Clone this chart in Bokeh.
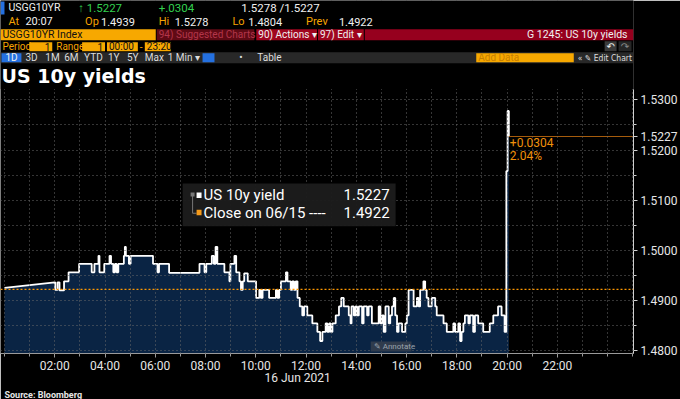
import numpy as np
import pandas as pd
from bokeh.plotting import figure
from bokeh.models import (FixedTicker, Range1d, Label, Span, BoxAnnotation,
                          DatetimeTickFormatter, PrintfTickFormatter, LinearAxis,
                          Title, CustomJSTickFormatter)
from bokeh.embed import file_html
from bokeh.resources import INLINE

# ---------------- data ----------------
hours = [
    0.00, 2.00, 2.02, 2.11, 2.19, 2.37, 2.55, 2.97, 3.47, 3.58,
    3.74, 3.78, 3.97, 4.18, 4.24, 4.33, 4.40, 4.46, 4.53, 4.75,
    4.79, 4.83, 4.95, 5.02, 5.91, 6.09, 6.15, 6.55, 7.76, 7.96,
    8.03, 8.25, 8.33, 8.40, 8.47, 8.75, 8.95, 8.99, 9.15, 9.22,
    9.35, 9.41, 9.48, 9.54, 9.68, 10.01, 10.14, 10.20, 10.27, 10.53,
    10.80, 10.86, 10.93, 11.00, 11.20, 11.26, 11.39, 11.45, 11.52, 11.59,
    11.66, 11.75, 11.85, 11.92, 12.05, 12.25, 12.45, 12.56, 12.65, 12.78,
    12.85, 12.92, 12.98, 13.05, 13.18, 13.31, 13.40, 13.50, 13.70, 13.77,
    13.81, 13.90, 13.97, 14.03, 14.10, 14.23, 14.29, 14.43, 14.49, 14.62,
    14.89, 14.96, 15.02, 15.09, 15.16, 15.29, 15.35, 15.42, 15.49, 15.55,
    15.62, 15.68, 15.82, 15.95, 16.01, 16.08, 16.28, 16.41, 16.48, 16.54,
    16.67, 16.74, 16.80, 16.87, 17.00, 17.14, 17.20, 17.47, 17.60, 17.86,
    17.93, 18.06, 18.13, 18.19, 18.26, 18.32, 18.46, 18.52, 18.65, 18.72,
    18.85, 19.05, 19.31, 19.45, 19.64, 19.78, 19.90, 19.97, 20.02, 20.07,
]
yields = [
    1.4925, 1.4936, 1.4921, 1.4936, 1.4920, 1.4938, 1.4956, 1.4973, 1.4956, 1.4973,
    1.4989, 1.4956, 1.4973, 1.4989, 1.4973, 1.4956, 1.4973, 1.4956, 1.4973, 1.4989,
    1.5007, 1.4989, 1.4973, 1.4989, 1.4973, 1.4956, 1.4973, 1.4955, 1.4973, 1.4956,
    1.4973, 1.4989, 1.4973, 1.5007, 1.4973, 1.4956, 1.4938, 1.4973, 1.4989, 1.4956,
    1.4938, 1.4921, 1.4938, 1.4954, 1.4938, 1.4905, 1.4921, 1.4905, 1.4921, 1.4905,
    1.4921, 1.4905, 1.4921, 1.4938, 1.4956, 1.4938, 1.4921, 1.4938, 1.4921, 1.4938,
    1.4905, 1.4888, 1.4870, 1.4888, 1.4870, 1.4854, 1.4837, 1.4819, 1.4837, 1.4854,
    1.4837, 1.4854, 1.4837, 1.4854, 1.4870, 1.4888, 1.4905, 1.4888, 1.4870, 1.4854,
    1.4888, 1.4870, 1.4888, 1.4870, 1.4888, 1.4854, 1.4888, 1.4870, 1.4888, 1.4854,
    1.4888, 1.4854, 1.4870, 1.4837, 1.4888, 1.4854, 1.4870, 1.4888, 1.4905, 1.4870,
    1.4837, 1.4854, 1.4837, 1.4854, 1.4870, 1.4921, 1.4888, 1.4905, 1.4888, 1.4921,
    1.4938, 1.4921, 1.4905, 1.4888, 1.4905, 1.4888, 1.4870, 1.4854, 1.4837, 1.4854,
    1.4837, 1.4854, 1.4819, 1.4837, 1.4854, 1.4870, 1.4854, 1.4870, 1.4837, 1.4870,
    1.4854, 1.4837, 1.4854, 1.4870, 1.4888, 1.4870, 1.4837, 1.5158, 1.5278, 1.5227,
]
assert len(hours) == len(yields)

prev_close = 1.4922
last_value = 1.5227
change_abs = 0.0304
change_pct = 2.04
y_ticks = [1.48, 1.49, 1.50, 1.51, 1.52, 1.53]
y_minor = [1.48 + 0.005 * k for k in range(11)]
x_tick_hours = [2, 4, 6, 8, 10, 12, 14, 16, 18, 20, 22]
date_label = "16 Jun 2021"
series_name = "US 10y yield"
close_name = "Close on 06/15 ----"
chart_title = "US 10y yields"
source_text = "Source: Bloomberg"

BASE = pd.Timestamp("2021-06-16")


def ms(h):
    return (BASE + pd.Timedelta(hours=h)).value / 1e6


# reference-pixel -> data helpers (placement of annotations / header only)
def tx(X):
    return ms((X - 4) / 25.25)


def vy(Y):
    return 1.48 + (352 - Y) / 5040.0


# step expansion (first segment is a data gap, drawn straight)
xs = [ms(hours[0]), ms(hours[1])]
ys = [yields[0], yields[1]]
for i in range(2, len(hours)):
    xs += [ms(hours[i]), ms(hours[i])]
    ys += [yields[i - 1], yields[i]]

Y_BOTTOM, Y_TOP = vy(355), vy(0)
Y_AXIS_TOP = 1.5320
X_LEFT, X_RIGHT = tx(0), tx(636)

FONT = "Roboto"
ORANGE = "#f5a300"
WHITE = "#f0f0f0"

p = figure(width=680, height=399, x_axis_type="datetime", y_axis_location="right",
           x_range=Range1d(X_LEFT, X_RIGHT), y_range=Range1d(Y_BOTTOM, Y_TOP),
           output_backend="svg", toolbar_location=None,
           background_fill_color="black", border_fill_color="black",
           outline_line_color=None, min_border_left=0, min_border_top=0,
           min_border_right=0, min_border_bottom=0)

p.varea(x=xs, y1=Y_BOTTOM, y2=ys, fill_color="#0a2444")
p.line(x=xs, y=ys, line_color="white", line_width=1.8)
p.segment(x0=[ms(hours[-1])], x1=[X_RIGHT], y0=[last_value], y1=[last_value],
          line_color="#a65c0c", line_width=1.2)

# grids (drawn over the filled area, like the terminal does)
p.xgrid.ticker = FixedTicker(ticks=[ms(h) for h in range(0, 26)])
p.ygrid.ticker = FixedTicker(ticks=y_minor)
for g in (p.xgrid[0], p.ygrid[0]):
    g.grid_line_color = "#6a6a6a"
    g.grid_line_dash = "1 3"
    g.grid_line_width = 1
    g.level = "annotation"

# x axis
xa = p.xaxis[0]
xa.ticker = FixedTicker(ticks=[ms(h) for h in x_tick_hours],
                        minor_ticks=[ms(h) for h in range(0, 26)])
xa.formatter = DatetimeTickFormatter(hours="%H:%M", hourmin="%H:%M", days="%H:%M",
                                     minutes="%H:%M", context=None)
xa.axis_line_color = "#9a9a9a"
xa.major_tick_line_color = "#9a9a9a"
xa.minor_tick_line_color = "#9a9a9a"
xa.major_tick_out = 4
xa.major_tick_in = 0
xa.minor_tick_out = 3
xa.minor_tick_in = 0
xa.major_label_standoff = 1
xa.major_label_text_color = "#e6e6e6"
xa.major_label_text_font = FONT
xa.major_label_text_font_size = "12px"

# y axis (right); the last price is marked on the axis as in the terminal
ya = p.yaxis[0]
ya.bounds = (Y_BOTTOM, Y_AXIS_TOP)
ya.ticker = FixedTicker(ticks=y_ticks + [last_value], minor_ticks=y_minor)
ya.formatter = PrintfTickFormatter(format="%.4f")
ya.axis_line_color = "#d0d0d0"
ya.major_tick_line_color = "#d0d0d0"
ya.minor_tick_line_color = "#d0d0d0"
ya.major_tick_out = 4
ya.major_tick_in = 0
ya.minor_tick_out = 3
ya.minor_tick_in = 0
ya.major_label_standoff = 3
ya.major_label_text_color = "#e6e6e6"
ya.major_label_text_font = FONT
ya.major_label_text_font_size = "12px"

# date under the time axis
date_axis = LinearAxis(ticker=FixedTicker(ticks=[ms(11 + 40 / 60)]),
                       formatter=CustomJSTickFormatter(code="return '%s';" % date_label),
                       axis_line_color=None, major_tick_line_color=None,
                       minor_tick_line_color=None, major_tick_out=0, major_tick_in=0,
                       minor_tick_out=0, minor_tick_in=0, major_label_standoff=-5,
                       major_label_text_color="#e6e6e6", major_label_text_font=FONT,
                       major_label_text_font_size="12px")
p.add_layout(date_axis, "below")
p.add_layout(Title(text=source_text, align="left", text_font_size="9px",
                   text_font_style="bold", text_color="#e6e6e6", text_font=FONT,
                   standoff=0, offset=4), "below")


def hbox(x0, x1, y0, y1, color, alpha=1.0, xr=None):
    p.add_layout(BoxAnnotation(left=tx(x0), right=(xr if xr is not None else tx(x1)),
                               top=vy(y0), bottom=vy(y1),
                               fill_color=color, fill_alpha=alpha, line_color=None))


def hlab(X, Y, s, color, size="10.5px", align="left", font=FONT, style="normal"):
    p.add_layout(Label(x=tx(X), y=vy(Y), text=s, text_color=color, text_font_size=size,
                       text_align=align, text_baseline="middle", text_font=font,
                       text_font_style=style))


# ---------------- terminal header ----------------
hbox(0, 0, 0, 89, "#000000", xr=X_RIGHT)
# row 1
hbox(0, 4, 1, 14, "#2470e0")
hlab(8, 7.5, "USGG10YR", WHITE, "10.5px")
hlab(78, 7.5, "\u2191 1.5227", "#33d04f", "11.5px")
hlab(159, 7.5, "+.0304", "#33d04f", "11.5px")
hlab(242, 7.5, "1.5278 /1.5227", WHITE, "11.5px")
# row 2
for X, s, c in [(8, "At", ORANGE), (25, "20:07", WHITE), (85, "Op", ORANGE),
                (101, "1.4939", WHITE), (159, "Hi", ORANGE), (175, "1.5278", WHITE),
                (233, "Lo", ORANGE), (249, "1.4804", WHITE), (307, "Prev", ORANGE),
                (340, "1.4922", WHITE)]:
    hlab(X, 21.5, s, c, "11px")
# row 3
hbox(0, 156, 29, 40, "#f7a800")
hbox(157, 255, 29, 40, "#600a15")
hbox(257, 318, 29, 40, "#a0061f")
hbox(319, 365, 29, 40, "#a0061f")
hbox(366, 0, 29, 40, "#96001e", xr=X_RIGHT)
hlab(2, 34.5, "USGG10YR Index", "#111111", "10.5px")
hlab(159, 34.5, "94) Suggested Charts", "#b3364a", "10px")
hlab(259, 34.5, "90) Actions \u25be", WHITE, "10px")
hlab(321, 34.5, "97) Edit \u25be", WHITE, "10px")
hlab(630, 34.5, "G 1245: US 10y yields", WHITE, "10.5px", align="right")
# row 4
hlab(2, 46.5, "Period", ORANGE, "10px")
hbox(29, 52, 42, 51, "#f7a800")
hlab(50, 46.5, "1", "#111111", "10px", align="right")
hlab(56, 46.5, "Range", ORANGE, "10px")
hbox(82, 105, 42, 51, "#f7a800")
hlab(103, 46.5, "1", "#111111", "10px", align="right")
hbox(107, 138, 42, 51, "#f7a800")
hlab(109, 46.5, "00:00", "#111111", "10px")
hlab(140, 46.5, "-", ORANGE, "10px")
hbox(145, 171, 42, 51, "#f7a800")
hlab(147, 46.5, "23:20", "#111111", "10px")
hbox(607, 619, 41, 51, "#3a3a3a")
hlab(613, 46.5, "\u21b6", WHITE, "10px", align="center", font="DejaVu Sans")
hbox(621, 634, 41, 51, "#262626")
hlab(627.5, 46.5, "\u21b7", "#888888", "10px", align="center", font="DejaVu Sans")
# row 5
hbox(0, 0, 52, 63, "#282828", xr=X_RIGHT)
hbox(1, 21, 53, 62, "#2470e0")
hlab(5, 57.5, "1D", WHITE, "10px")
for X, s in [(25, "3D"), (45, "1M"), (64, "6M"), (84, "YTD"), (108, "1Y"),
             (127, "5Y"), (145, "Max"), (168, "1 Min \u25be"), (240, "\u2022"),
             (258, "Table")]:
    hlab(X, 57.5, s, "#dddddd", "10px")
hbox(203, 215, 53, 62, "#2470e0")
hbox(478, 576, 53, 62, "#f7a800")
hlab(480, 57.5, "Add Data", "#c77f00", "10px")
hlab(580, 57.5, "\u00ab \u270e Edit Chart", "#dddddd", "8.5px",
     font="DejaVu Sans Condensed")
# chart title
hlab(1, 76, chart_title, "#ffffff", "19px", font="DejaVu Sans", style="bold")

# ---------------- chart annotations ----------------
p.add_layout(Span(location=prev_close, dimension="width", line_color="#ff9900",
                  line_dash="2 2", line_width=1.2))

# legend box
hbox(183, 397, 184, 227, "#1c1c1c", 0.95)
hbox(192.5, 193.5, 195, 214, "#777777")
hbox(193, 197, 213.5, 214.5, "#777777")
hbox(191, 195, 193, 197, "#777777")
hbox(197, 202, 193, 198.5, "#ffffff")
hbox(197, 202, 210.5, 216, "#f59a1a")
for Y, left, right in [(195.5, series_name, "%.4f" % last_value),
                       (213.5, close_name, "%.4f" % prev_close)]:
    p.add_layout(Label(x=tx(204), y=vy(Y), text=left, text_color="white",
                       text_font=FONT, text_font_size="15px", text_baseline="middle"))
    p.add_layout(Label(x=tx(391), y=vy(Y), text=right, text_color="white",
                       text_font=FONT, text_font_size="15px", text_baseline="middle",
                       text_align="right"))

# change annotation
p.add_layout(Label(x=ms(hours[-1]), y=vy(143), x_offset=1, text="+%.4f" % change_abs,
                   text_color="#f0900a", text_font=FONT, text_font_size="12px",
                   text_baseline="middle"))
p.add_layout(Label(x=ms(hours[-1]), y=vy(156.5), x_offset=1, text="%.2f%%" % change_pct,
                   text_color="#f0900a", text_font=FONT, text_font_size="12px",
                   text_baseline="middle"))

# annotate button
hbox(372, 413, 343, 353, "#2f3b4c")
p.add_layout(Label(x=tx(375), y=vy(348), text="\u270e Annotate", text_color="#9aa3ad",
                   text_font=FONT, text_font_size="8px", text_baseline="middle"))

html = file_html(p, INLINE)
html = html.replace("<body>", '<body style="background-color:#000000;">', 1)
open("out.html", "w").write(html)
